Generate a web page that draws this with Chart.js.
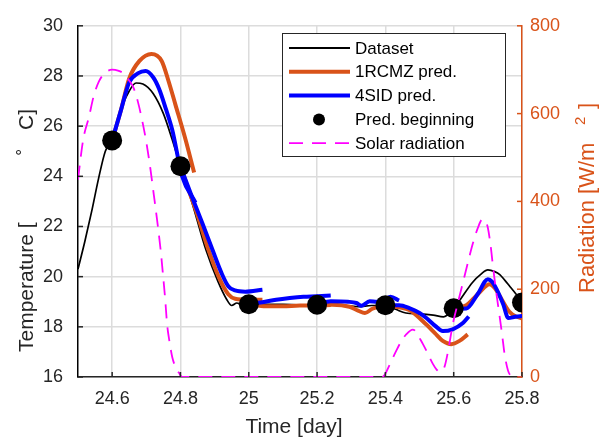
<!DOCTYPE html>
<html>
<head>
<meta charset="utf-8">
<script src="https://cdn.jsdelivr.net/npm/chart.js@4.4.1/dist/chart.umd.min.js"></script>
<style>
  body { margin: 0; background: #fff; }
  #wrap { width: 606px; height: 442px; }
</style>
</head>
<body>
<div id="wrap"><canvas id="chart" width="606" height="442"></canvas></div>
<script>
// measured dataset temperature (day, degC)
const dataTime = [24.50, 24.52, 24.54, 24.56, 24.58, 24.60, 24.62, 24.65, 24.67, 24.69, 24.72, 24.75, 24.775, 24.80,
  24.835, 24.875, 24.91, 24.935, 24.95, 24.965, 24.98, 25.00, 25.05, 25.10, 25.15, 25.20, 25.25, 25.28, 25.32, 25.36,
  25.40, 25.43, 25.46, 25.50, 25.54, 25.57, 25.60, 25.62, 25.655, 25.68, 25.70, 25.72, 25.735, 25.75, 25.765, 25.78, 25.80];
const dataTemp = [20.3, 21.4, 22.6, 23.9, 25.0, 25.45, 26.45, 27.4, 27.72, 27.68, 27.3, 26.5, 25.5, 24.4,
  22.9, 21.05, 19.8, 19.1, 18.85, 18.95, 18.9, 18.9, 18.9, 18.9, 18.88, 18.88, 18.9, 18.85, 18.8, 18.85,
  18.85, 18.7, 18.55, 18.52, 18.47, 18.4, 18.72, 19.1, 19.77, 20.1, 20.27, 20.2, 20.08, 19.85, 19.6, 19.35, 19.0];

// prediction starting points
const predStartTime = [24.6, 24.8, 25.0, 25.2, 25.4, 25.6, 25.8];
const predStartTemp = [25.43, 24.4, 18.9, 18.88, 18.86, 18.74, 18.97];

// 1RCMZ prediction segments [day, degC]
const rcmzPred = [
  [[24.6, 25.43], [24.625, 26.6], [24.65, 27.9], [24.68, 28.6], [24.715, 28.88], [24.745, 28.6], [24.765, 27.8], [24.785, 26.87], [24.815, 25.46], [24.84, 24.15]],
  [[24.8, 24.4], [24.82, 23.6], [24.845, 22.65], [24.88, 21.15], [24.915, 19.9], [24.94, 19.3], [24.96, 19.12], [25.0, 19.08], [25.04, 19.08]],
  [[25.0, 18.9], [25.05, 18.82], [25.1, 18.82], [25.15, 18.85], [25.2, 18.85], [25.24, 18.87]],
  [[25.2, 18.88], [25.245, 18.88], [25.295, 18.8], [25.32, 18.65], [25.34, 18.55], [25.362, 18.72], [25.4, 18.85], [25.44, 18.8]],
  [[25.4, 18.86], [25.44, 18.78], [25.47, 18.67], [25.52, 18.09], [25.545, 17.75], [25.568, 17.44], [25.593, 17.31], [25.617, 17.44], [25.641, 17.7]],
  [[25.6, 18.72], [25.637, 18.86], [25.66, 19.15], [25.676, 19.38], [25.705, 19.7], [25.72, 19.55], [25.734, 19.25], [25.763, 18.6], [25.783, 18.41], [25.81, 18.3]]
];

// 4SID prediction segments [day, degC]
const sidPred = [
  [[24.6, 25.43], [24.625, 26.6], [24.65, 27.75], [24.675, 28.1], [24.698, 28.2], [24.72, 27.95], [24.737, 27.5], [24.757, 26.7], [24.776, 25.85], [24.805, 24.0], [24.844, 22.95]],
  [[24.8, 24.4], [24.835, 23.14], [24.865, 22.1], [24.894, 21.06], [24.92, 20.15], [24.94, 19.62], [24.96, 19.45], [24.99, 19.4], [25.04, 19.48]],
  [[25.0, 18.9], [25.04, 18.98], [25.08, 19.08], [25.12, 19.15], [25.16, 19.2], [25.2, 19.22], [25.24, 19.25]],
  [[25.2, 18.88], [25.24, 19.02], [25.29, 19.0], [25.315, 18.95], [25.33, 18.84], [25.354, 19.02], [25.375, 19.0], [25.4, 19.1], [25.415, 19.2], [25.44, 19.05]],
  [[25.4, 18.86], [25.44, 18.86], [25.47, 18.75], [25.5, 18.55], [25.52, 18.35], [25.545, 18.05], [25.568, 17.83], [25.597, 17.9], [25.627, 18.15], [25.644, 18.41]],
  [[25.6, 18.72], [25.637, 18.73], [25.67, 19.3], [25.7, 19.9], [25.712, 19.8], [25.725, 19.51], [25.745, 18.9], [25.76, 18.35], [25.78, 18.4], [25.81, 18.45]]
];

// solar radiation (day, W/m2)
const radTime = [24.50, 24.515, 24.532, 24.546, 24.561, 24.58, 24.60, 24.617, 24.634, 24.65, 24.663, 24.676, 24.688, 24.70,
  24.712, 24.722, 24.732, 24.742, 24.748, 24.755, 24.761, 24.768, 24.776, 24.786, 24.795, 24.805, 25.39, 25.397, 25.415,
  25.432, 25.447, 25.461, 25.48, 25.49, 25.50, 25.51, 25.52, 25.539, 25.55, 25.559, 25.565, 25.573, 25.585, 25.597, 25.612,
  25.627, 25.642, 25.656, 25.67, 25.684, 25.693, 25.70, 25.708, 25.715, 25.724, 25.734, 25.742, 25.749, 25.759, 25.768, 25.775, 25.80];
const radValue = [450, 540, 592, 640, 673, 693, 700, 698, 691, 675, 658, 625, 584, 535,
  474, 415, 355, 289, 240, 180, 119, 80, 45, 22, 10, 0, 0, 4, 32,
  60, 82, 97, 108, 103, 89, 75, 60, 30, 17, 12, 14, 23, 65, 119, 168,
  215, 262, 304, 338, 359, 355, 340, 300, 252, 196, 141, 95, 52, 15, 2, 0, 0];

const xTicks = [24.6, 24.8, 25.0, 25.2, 25.4, 25.6, 25.8];
const tempTicks = [16, 18, 20, 22, 24, 26, 28, 30];
const radTicks = [0, 200, 400, 600, 800];

const FONT = '"Liberation Sans", Arial, Helvetica, sans-serif';
const ORANGE = '#D95319';
const BLUE = '#0000FF';
const MAGENTA = '#FF00FF';
const AXIS = '#262626';

const toXY = seg => seg.map(p => ({ x: p[0], y: p[1] }));

const datasets = [];
// solar radiation on top
datasets.push({
  label: 'Solar radiation', yAxisID: 'y2', order: 0,
  data: radTime.map((t, i) => ({ x: t, y: radValue[i] })),
  borderColor: MAGENTA, borderWidth: 1.8, borderDash: [14, 9],
  pointRadius: 0, cubicInterpolationMode: 'monotone', fill: false
});
datasets.push({
  label: 'Pred. beginning', yAxisID: 'y', order: 1, showLine: false,
  data: predStartTime.map((t, i) => ({ x: t, y: predStartTemp[i] })),
  pointRadius: 10, pointBackgroundColor: '#000', pointBorderColor: '#000', pointBorderWidth: 0
});
sidPred.forEach(seg => datasets.push({
  label: '4SID pred.', yAxisID: 'y', order: 2, data: toXY(seg),
  borderColor: BLUE, borderWidth: 4, pointRadius: 0, cubicInterpolationMode: 'monotone'
}));
rcmzPred.forEach(seg => datasets.push({
  label: '1RCMZ pred.', yAxisID: 'y', order: 3, data: toXY(seg),
  borderColor: ORANGE, borderWidth: 4, pointRadius: 0, cubicInterpolationMode: 'monotone'
}));
datasets.push({
  label: 'Dataset', yAxisID: 'y', order: 4,
  data: dataTime.map((t, i) => ({ x: t, y: dataTemp[i] })),
  borderColor: '#000', borderWidth: 1.7, pointRadius: 0, cubicInterpolationMode: 'monotone'
});

// rotated text pieces, each placed at its own distance along the axis
function drawUpText(ctx, x, y, parts) {
  ctx.save();
  ctx.translate(x, y);
  ctx.rotate(-Math.PI / 2);
  ctx.textBaseline = 'alphabetic';
  ctx.textAlign = 'left';
  parts.forEach(p => {
    ctx.font = p.size + 'px ' + FONT;
    ctx.fillText(p.text, p.at, p.dy || 0);
  });
  ctx.restore();
}

const decorations = {
  id: 'decorations',
  afterDatasetsDraw(chart) {
    const { ctx, chartArea: a, scales } = chart;
    ctx.save();
    ctx.lineWidth = 1.5;
    ctx.strokeStyle = AXIS;
    xTicks.forEach(v => {
      const px = scales.x.getPixelForValue(v);
      ctx.beginPath(); ctx.moveTo(px, a.bottom); ctx.lineTo(px, a.bottom - 5); ctx.stroke();
    });
    tempTicks.forEach(v => {
      const py = scales.y.getPixelForValue(v);
      ctx.beginPath(); ctx.moveTo(a.left, py); ctx.lineTo(a.left + 5, py); ctx.stroke();
    });
    ctx.strokeStyle = ORANGE;
    radTicks.forEach(v => {
      const py = scales.y2.getPixelForValue(v);
      ctx.beginPath(); ctx.moveTo(a.right, py); ctx.lineTo(a.right - 5, py); ctx.stroke();
    });
    ctx.restore();
  },
  afterDraw(chart) {
    const ctx = chart.ctx;
    ctx.save();
    // axis titles
    ctx.fillStyle = AXIS;
    ctx.font = '21px ' + FONT;
    ctx.textAlign = 'center';
    ctx.textBaseline = 'middle';
    ctx.fillText('Time [day]', 294, 427);
    drawUpText(ctx, 33, 352, [
      { text: 'Temperature [', size: 21, at: 0 },
      { text: '\u2218', size: 15, dy: -10, at: 195 },
      { text: 'C]', size: 21, at: 222 }
    ]);
    ctx.fillStyle = ORANGE;
    drawUpText(ctx, 594, 293, [
      { text: 'Radiation [W/m', size: 22, at: 0 },
      { text: '2', size: 15, dy: -9, at: 168 },
      { text: ']', size: 22, at: 184 }
    ]);

    // legend box
    const bx = 282.5, by = 33.5, bw = 223, bh = 123;
    ctx.fillStyle = '#fff';
    ctx.fillRect(bx, by, bw, bh);
    ctx.strokeStyle = AXIS;
    ctx.lineWidth = 1;
    ctx.strokeRect(bx, by, bw, bh);
    const rows = [
      { text: 'Dataset', color: '#000', width: 2 },
      { text: '1RCMZ pred.', color: ORANGE, width: 4 },
      { text: '4SID pred.', color: BLUE, width: 4 },
      { text: 'Pred. beginning', dot: true },
      { text: 'Solar radiation', color: MAGENTA, width: 1.8, dash: [14, 9] }
    ];
    rows.forEach((r, i) => {
      const ry = 48 + i * 23.8;
      if (r.dot) {
        ctx.fillStyle = '#000';
        ctx.beginPath(); ctx.arc(319, ry, 6, 0, Math.PI * 2); ctx.fill();
      } else {
        ctx.strokeStyle = r.color;
        ctx.lineWidth = r.width;
        ctx.setLineDash(r.dash || []);
        ctx.beginPath(); ctx.moveTo(289, ry); ctx.lineTo(350, ry); ctx.stroke();
        ctx.setLineDash([]);
      }
      ctx.fillStyle = '#000';
      ctx.font = '17px ' + FONT;
      ctx.textAlign = 'left';
      ctx.textBaseline = 'middle';
      ctx.fillText(r.text, 355, ry + 1);
    });
    ctx.restore();
  }
};

new Chart(document.getElementById('chart'), {
  type: 'line',
  data: { datasets },
  options: {
    responsive: false,
    animation: false,
    events: [],
    layout: { padding: { top: 16, left: 0, right: 0, bottom: 0 } },
    plugins: { legend: { display: false }, tooltip: { enabled: false } },
    scales: {
      x: {
        type: 'linear', min: 24.5, max: 25.8,
        afterBuildTicks: s => { s.ticks = xTicks.map(v => ({ value: v })); },
        afterFit: s => { s.height = 65; },
        grid: { color: '#dcdcdc', lineWidth: 1.5, drawTicks: false },
        border: { color: AXIS, width: 1.5 },
        ticks: { padding: 11, color: AXIS, font: { size: 18, family: FONT }, maxRotation: 0,
          callback: v => String(Math.round(v * 10) / 10) }
      },
      y: {
        position: 'left', min: 16, max: 30,
        afterBuildTicks: s => { s.ticks = tempTicks.map(v => ({ value: v })); },
        afterFit: s => { s.width = 78; },
        grid: { color: '#dcdcdc', lineWidth: 1.5, drawTicks: false },
        border: { color: '#000', width: 1.5 },
        ticks: { padding: 15, color: AXIS, font: { size: 18, family: FONT } }
      },
      y2: {
        position: 'right', min: 0, max: 800,
        afterBuildTicks: s => { s.ticks = radTicks.map(v => ({ value: v })); },
        afterFit: s => { s.width = 84; },
        grid: { drawOnChartArea: false, drawTicks: false },
        border: { color: ORANGE, width: 1.5 },
        ticks: { padding: 8, color: ORANGE, font: { size: 18, family: FONT } }
      }
    }
  },
  plugins: [decorations]
});
</script>
</body>
</html>
